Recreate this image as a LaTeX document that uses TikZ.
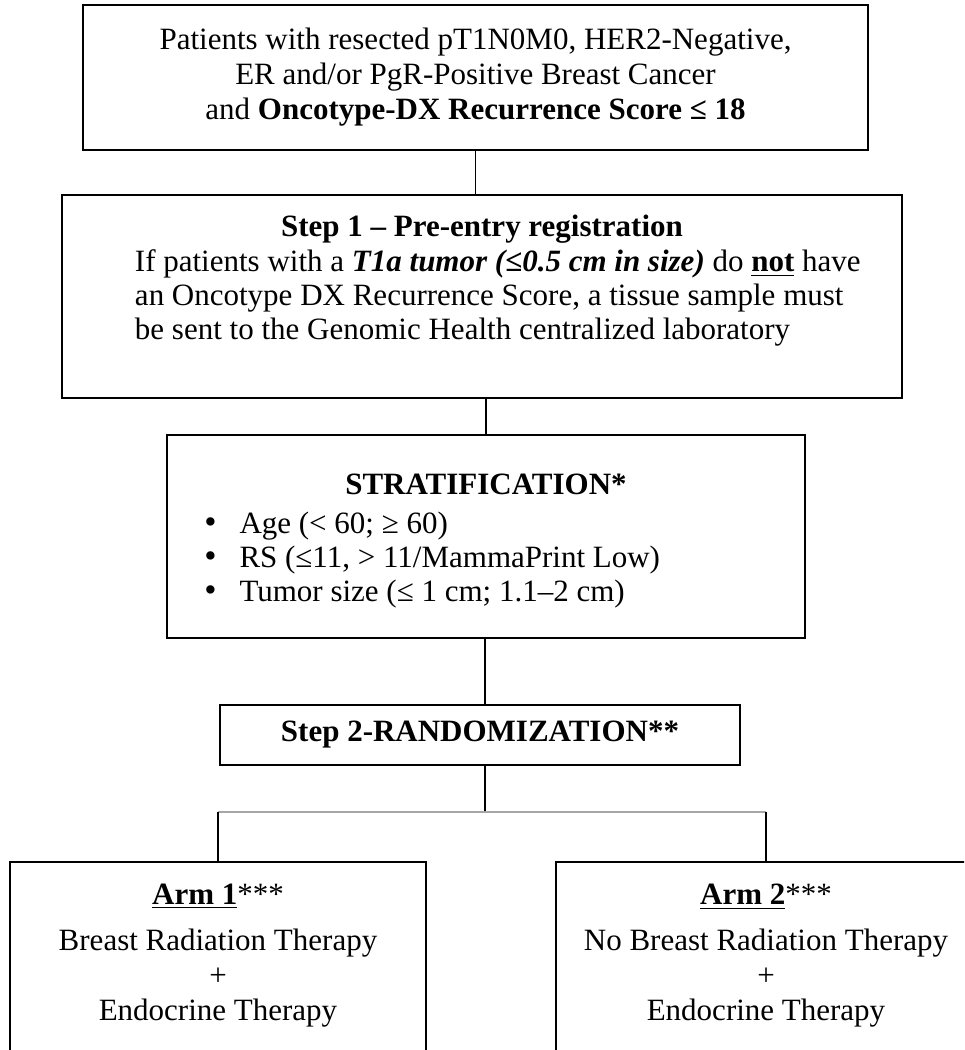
\documentclass[tikz,border=0pt]{standalone}
\usepackage{fontspec}
\setmainfont{Liberation Serif}
\usepackage{tikz}
\usetikzlibrary{positioning}

\begin{document}
\begin{tikzpicture}[
  x=0.4pt, y=-0.4pt,
  box/.style={rectangle, draw, line width=0.8pt, inner sep=0pt,
              font=\fontsize{12.4}{14}\selectfont},
  link/.style={line width=0.5pt},
  split/.style={line width=0.7pt, gray!70},
]
  \clip (0,0) rectangle (964,1050);

  % Eligibility
  \node[box, minimum width=314pt, minimum height=58pt, align=center] (elig) at (475.5,77.5)
    {Patients with resected pT1N0M0, HER2-Negative,\\
     ER and/or PgR-Positive Breast Cancer\\
     and \textbf{Oncotype-DX Recurrence Score ≤ 18}};

  % Step 1
  \node[box, minimum width=336pt, minimum height=81.2pt] (reg) at (482,296.5)
    {\parbox[c][81.2pt][t]{336pt}{\vspace*{8pt}%
      \centering\textbf{Step 1 – Pre-entry registration}\par%
      \raggedright\hspace*{29.2pt}\parbox[t]{300pt}{\raggedright\baselineskip=13.6pt
        If patients with a \textbf{\textit{T1a tumor (≤0.5 cm in size)}} do \underline{\textbf{not}} have\\
        an Oncotype DX Recurrence Score, a tissue sample must\\
        be sent to the Genomic Health centralized laboratory}}};

  % Stratification
  \node[box, minimum width=255.2pt, minimum height=81.2pt] (strat) at (486,536.5)
    {\parbox[c][81.2pt][t]{255.2pt}{\vspace*{15.6pt}%
      \centering\textbf{STRATIFICATION*}\par\vspace{2pt}%
      \raggedright\baselineskip=13.6pt
      \hspace*{15pt}\makebox[14pt][l]{\fontsize{14}{13.6}\selectfont\textbullet}Age (< 60; ≥ 60)\\
      \hspace*{15pt}\makebox[14pt][l]{\fontsize{14}{13.6}\selectfont\textbullet}RS (≤11, > 11/MammaPrint Low)\\
      \hspace*{15pt}\makebox[14pt][l]{\fontsize{14}{13.6}\selectfont\textbullet}Tumor size (≤ 1 cm; 1.1–2 cm)}};

  % Step 2
  \node[box, minimum width=208pt, minimum height=24pt] (rand) at (480,735)
    {\textbf{Step 2-RANDOMIZATION**}};

  % Arms
  \node[box, minimum width=166.4pt, minimum height=96pt] (arma) at (218,982)
    {\parbox[c][96pt][t]{166.4pt}{\vspace*{8.8pt}\centering\baselineskip=14pt
      \underline{\textbf{Arm 1}}***\par\vspace{4.5pt}
      Breast Radiation Therapy\\
      +\\
      Endocrine Therapy}};
  \node[box, minimum width=168pt, minimum height=96pt] (armb) at (766,982)
    {\parbox[c][96pt][t]{168pt}{\vspace*{8.8pt}\centering\baselineskip=14pt
      \underline{\textbf{Arm 2}}***\par\vspace{4.5pt}
      No Breast Radiation Therapy\\
      +\\
      Endocrine Therapy}};

  % Connectors
  \coordinate (fork) at (485,812);
  \draw[link] (elig.south) -- (elig.south |- reg.north);
  \draw[link] (strat.north |- reg.south) -- (strat.north);
  \draw[link] (strat.south -| fork) -- (rand.north -| fork);
  \draw[link] (rand.south -| fork) -- (fork);
  \draw[split] (fork -| arma.north) -- (fork -| armb.north);
  \draw[link] (fork -| arma.north) -- (arma.north);
  \draw[link] (fork -| armb.north) -- (armb.north);
\end{tikzpicture}
\end{document}
